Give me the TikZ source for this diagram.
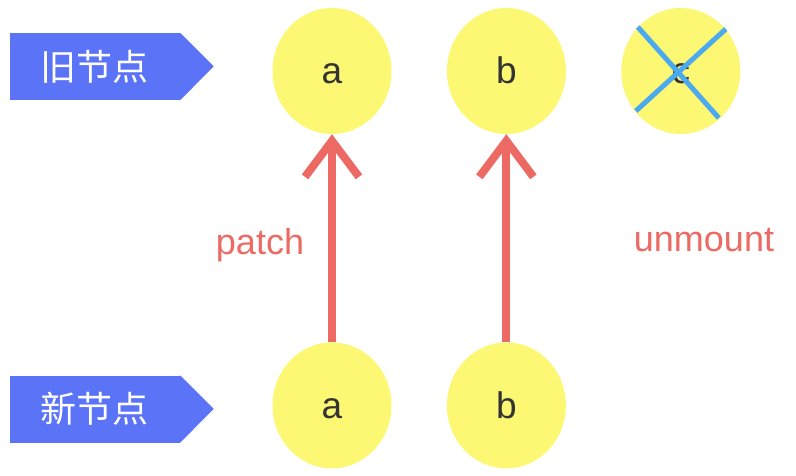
\documentclass[tikz,border=0pt]{standalone}
\usepackage{fontspec}
\setmainfont{Liberation Sans}
\newfontfamily\cjk{Noto Sans CJK SC}
\usetikzlibrary{arrows.meta,positioning,shapes.geometric}
\definecolor{tagblue}{HTML}{5B73F7}
\definecolor{blobyellow}{HTML}{FDF873}
\definecolor{patchred}{HTML}{EC6A63}
\definecolor{crossblue}{HTML}{4BA9F0}
\definecolor{letter}{HTML}{333333}

\begin{document}
\begin{tikzpicture}[x=1pt, y=1pt, node distance=210pt and 57pt,
    blob/.style={ellipse, inner sep=0pt, fill=blobyellow, minimum width=119pt, minimum height=126pt, text height=26pt, text depth=0pt, text=letter, font=\fontsize{37}{40}\selectfont},
    tag/.style={rectangle, fill=tagblue, minimum width=170pt, minimum height=67pt, text=white, font=\cjk\fontsize{36}{40}\selectfont},
    patcharrow/.style={patchred, line width=8pt, -{Straight Barb[length=36pt, width=54pt]}},
    cross/.style={crossblue, line width=5pt},
    note/.style={text=patchred, font=\fontsize{36}{40}\selectfont}]
      \useasboundingbox (0,0) rectangle (796,-476);

      \node[tag] (old) at (95,-66.5) {旧节点};
      \node[tag] (new) at (95,-409) {新节点};
      \fill[tagblue] (old.north east) -- ++(33.5,-33.5) -- (old.south east) -- cycle;
      \fill[tagblue] (new.north east) -- ++(33.5,-33.5) -- (new.south east) -- cycle;

      \node[blob] (oa) at (332,-71) {a};
      \node[blob] (ob) [right=of oa, xshift=-2pt] {b};
      \node[blob] (oc) [right=of ob, xshift=-2pt] {c};
      \node[blob] (na) [below=of oa, yshift=2pt] {a};
      \node[blob] (nb) [right=of na, xshift=-2pt] {b};

      \draw[cross] ([shift={(-43,44)}]oc.center) -- ([shift={(38,-47)}]oc.center);
      \draw[cross] ([shift={(45,42)}]oc.center) -- ([shift={(-45,-40)}]oc.center);

      \draw[patcharrow] (na) -- (oa);
      \draw[patcharrow] (nb) -- (ob);

      \node[note] (patch) at (260,-245) {patch};
      \node[note] (unmount) at (704,-240) {unmount};
    \end{tikzpicture}
\end{document}
